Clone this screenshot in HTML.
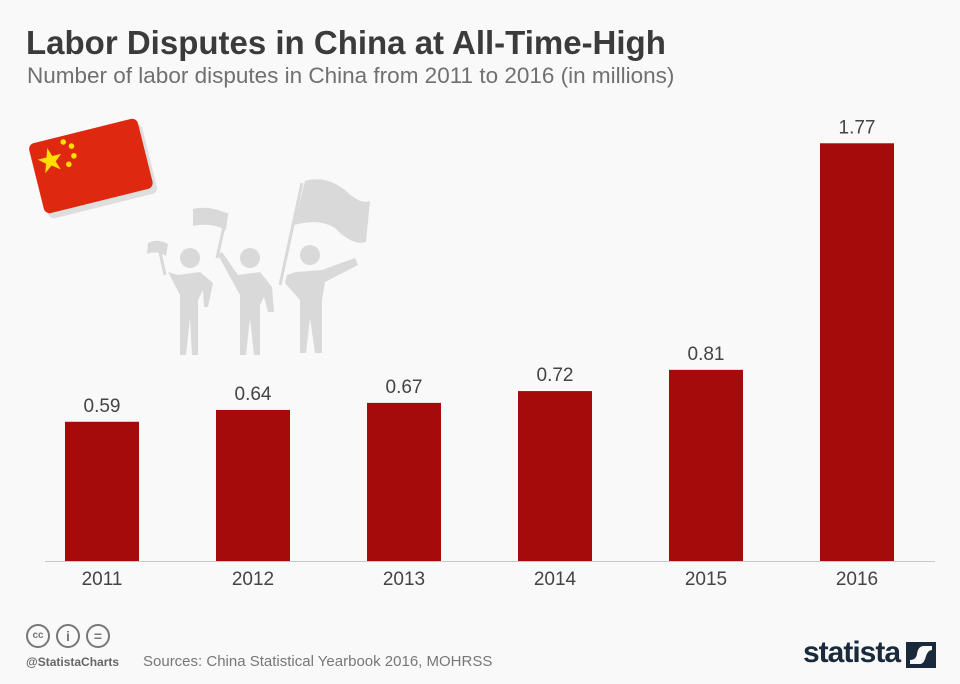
<!DOCTYPE html>
<html><head><meta charset="utf-8"><style>
body{margin:0;background:#f9f9f9;font-family:"Liberation Sans",sans-serif;}
#wrap{position:relative;width:960px;height:684px;overflow:hidden;background:#f9f9f9}
.t{position:absolute;white-space:nowrap}
</style></head><body>
<div id="wrap">
<div class="t" style="left:26px;top:24px;font-size:33px;font-weight:bold;color:#3b3b3b">Labor Disputes in China at All-Time-High</div>
<div class="t" style="left:27px;top:63px;font-size:22.5px;color:#707070">Number of labor disputes in China from 2011 to 2016 (in millions)</div>
<svg id="chart" width="960" height="684" style="position:absolute;left:0;top:0">
 <g>
  <g transform="translate(95,166) rotate(-14)">
   <rect x="-57" y="-31" width="112" height="72" rx="6" fill="#dedede"/>
   <rect x="-60" y="-37" width="112" height="72" rx="6" fill="#de2910"/>
   <polygon points="-42,-29 -39,-20 -30,-20 -37,-14 -34,-5 -42,-11 -50,-5 -47,-14 -54,-20 -45,-20" fill="#ffde00"/>
   <circle cx="-25" cy="-31" r="2.8" fill="#ffde00"/><circle cx="-18" cy="-25" r="2.8" fill="#ffde00"/>
   <circle cx="-18" cy="-15" r="2.8" fill="#ffde00"/><circle cx="-25" cy="-8" r="2.8" fill="#ffde00"/>
  </g>
  <g fill="#d9d9d9" stroke="#d9d9d9">
   <circle cx="190" cy="258" r="10" stroke="none"/>
   <path d="M178 275 L200 272 L213 283 L208 307 L204 307 L203 290 L198 300 L198 355 L192 355 L190 318 L186 355 L180 355 L180 295 L168 272" stroke-width="0"/>
   <path d="M165 275 L158 243" stroke-width="3" fill="none"/>
   <path d="M148 243 Q158 238 168 244 L166 256 Q156 250 147 254 Z" stroke="none"/>
   <circle cx="250" cy="258" r="10" stroke="none"/>
   <path d="M238 275 L260 272 L272 287 L274 312 L268 312 L264 297 L260 305 L260 355 L254 355 L250 318 L246 355 L240 355 L240 295 L218 255 L222 252 Z" stroke-width="0"/>
   <path d="M217 258 L227 213" stroke-width="3" fill="none"/>
   <path d="M193 209 Q210 205 228 214 L226 230 Q210 222 193 226 Z" stroke="none"/>
   <circle cx="310" cy="255" r="10" stroke="none"/>
   <path d="M296 272 L322 270 L355 258 L358 265 L325 282 L322 300 L322 353 L315 353 L310 318 L306 353 L300 353 L300 300 L285 283 L287 275 Z" stroke-width="0"/>
   <path d="M280 285 L302 183" stroke-width="3" fill="none"/>
   <path d="M305 181 Q325 175 345 190 Q360 205 370 201 L366 242 Q352 246 335 228 Q320 218 294 225 Z" stroke="none"/>
  </g>
 </g>
 <g id="bars"></g>
 <line x1="45" y1="561.5" x2="935" y2="561.5" stroke="#c8c8c8" stroke-width="1"/>
</svg>
<div style="position:absolute;left:26px;top:624px;display:flex;gap:6px">
 <div style="width:20px;height:20px;border:2px solid #777;border-radius:50%;font-size:10px;font-weight:bold;color:#777;text-align:center;line-height:20px">cc</div>
 <div style="width:20px;height:20px;border:2px solid #777;border-radius:50%;font-size:14px;font-weight:bold;color:#777;text-align:center;line-height:20px">i</div>
 <div style="width:20px;height:20px;border:2px solid #777;border-radius:50%;font-size:14px;font-weight:bold;color:#777;text-align:center;line-height:20px">=</div>
</div>
<div class="t" style="left:26px;top:655px;font-size:12px;font-weight:bold;color:#666">@StatistaCharts</div>
<div class="t" style="left:143px;top:653px;font-size:15px;color:#777">Sources: China Statistical Yearbook 2016, MOHRSS</div>
<div class="t" style="left:803px;top:636px;font-size:30px;font-weight:bold;color:#1a2a3a;letter-spacing:-1px">statista</div>
<svg style="position:absolute;left:906px;top:642px" width="30" height="26"><rect width="30" height="26" fill="#1a2a3a"/><path d="M4 22 L14 22 Q18 22 20 14 Q22 8 26 8 L26 4 L18 4 Q12 4 11 12 Q10 18 4 18 Z" fill="#f9f9f9"/></svg>
</div>
<script>
const categories=["2011","2012","2013","2014","2015","2016"];
const values=[0.59,0.64,0.67,0.72,0.81,1.77];
const valueLabels=["0.59","0.64","0.67","0.72","0.81","1.77"];
const ns="http://www.w3.org/2000/svg";
const g=document.getElementById("bars");
const base=561, scale=236, x0=65, step=151, bw=74;
function y(v){return base-v*scale;}
function x(i){return x0+i*step;}
categories.forEach((c,i)=>{
 const r=document.createElementNS(ns,"rect");
 
 
 r.setAttribute("x",x(i));r.setAttribute("y",y(values[i]));r.setAttribute("width",bw);r.setAttribute("height",base-y(values[i]));r.setAttribute("fill","#a50b0b");
 g.appendChild(r);
 const t=document.createElementNS(ns,"text");
 
 
 t.setAttribute("x",x(i)+bw/2);t.setAttribute("y",y(values[i])-10);t.setAttribute("text-anchor","middle");t.setAttribute("font-size","19");t.setAttribute("fill","#444");t.setAttribute("font-family","Liberation Sans");
 t.textContent=valueLabels[i];g.appendChild(t);
 const l=document.createElementNS(ns,"text");
 
 
 l.setAttribute("x",x(i)+bw/2);l.setAttribute("y",585);l.setAttribute("text-anchor","middle");l.setAttribute("font-size","19");l.setAttribute("fill","#444");l.setAttribute("font-family","Liberation Sans");
 l.textContent=c;g.appendChild(l);
});
</script>
</body></html>
